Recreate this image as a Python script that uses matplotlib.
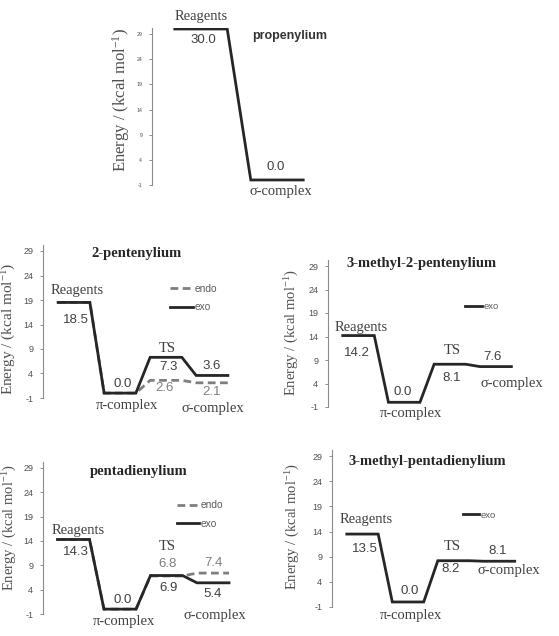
import matplotlib
matplotlib.use('Agg')
import matplotlib.pyplot as plt

plt.rcParams['mathtext.fontset'] = 'custom'
plt.rcParams['mathtext.rm'] = 'Liberation Serif'
plt.rcParams['mathtext.it'] = 'Liberation Serif:italic'
plt.rcParams['axes.unicode_minus'] = False

W, H, DPI = 559, 636, 100

# ---------------- data ----------------
prop_exo = [30.0, 0.0]
pent_exo = [18.5, 0.0, 7.3, 3.6]
pent_endo = [18.5, 0.0, 2.6, 2.1]
mpent_exo = [14.2, 0.0, 8.1, 7.6]
dien_exo = [14.3, 0.0, 6.9, 5.4]
dien_endo = [14.3, 0.0, 6.8, 7.4]
mdien_exo = [13.5, 0.0, 8.2, 8.1]
yticks = [-1, 4, 9, 14, 19, 24, 29]

SERIF = 'Liberation Serif'
SANS = 'Liberation Sans'
TXT = '#404040'
LINE = '#262626'
GRAY = '#7f7f7f'
HALF = 0.345

fig = plt.figure(figsize=(W / DPI, H / DPI), dpi=DPI)


def make_ax(spine_x, right_x, y_m1, ppu, c0, period, ytop=30.2, tfs=6.5):
    top_px = y_m1 - (ytop + 1) * ppu
    ax = fig.add_axes([spine_x / W, 1 - y_m1 / H, (right_x - spine_x) / W, (y_m1 - top_px) / H])
    ax.set_xlim((spine_x - c0) / period, (right_x - c0) / period)
    ax.set_ylim(-1, ytop)
    for s in ['top', 'right', 'bottom']:
        ax.spines[s].set_visible(False)
    ax.spines['left'].set_color('#8c8c8c')
    ax.spines['left'].set_linewidth(0.8)
    ax.set_xticks([])
    ax.set_yticks(yticks)
    ax.tick_params(axis='y', length=2.5, width=0.7, color='#8c8c8c', pad=4.5,
                   labelsize=tfs, labelcolor='#505050')
    for t in ax.get_yticklabels():
        t.set_fontfamily(SANS)
    ax.patch.set_alpha(0)
    return ax


def levels(ax, vals, **kw):
    xs, ys = [], []
    for i, v in enumerate(vals):
        xs += [i - HALF, i + HALF]
        ys += [v, v]
    return ax.plot(xs, ys, solid_joinstyle='miter', **kw)[0]


def lab(ax, i, v, text, dx, dy, va, family=SERIF, size=10.5, color=TXT):
    ax.annotate(text, xy=(i, v), xytext=(dx * 0.72, dy * 0.72), textcoords='offset points',
                ha='center', va=va, fontfamily=family, fontsize=size, color=color)


def num(ax, i, v, dx, dy, va, color=TXT):
    lab(ax, i, v, f'{v:.1f}', dx, dy, va, family=SANS, size=9.5, color=color)


def ftext(x, y, s, **kw):
    fig.text(x / W, 1 - y / H, s, ha='center', va='center', **kw)


def ylabel(x, y, size):
    ftext(x, y, r'Energy / (kcal mol$^{\mathrm{-1}}$)', rotation=90, fontfamily=SERIF,
          fontsize=size, color='#505050')


def legend(ax, handles, x, y, hl, size=7.3, spacing=0.8):
    ax.legend(handles=handles, loc='center left', bbox_to_anchor=(x / W, 1 - y / H),
              bbox_transform=fig.transFigure, frameon=False, handlelength=hl,
              handletextpad=0.15, borderpad=0, borderaxespad=0, labelspacing=spacing,
              labelcolor='#595959', prop={'family': SANS, 'size': size})


# ---------------- propenylium ----------------
ax = make_ax(152, 315, 185, 5.033, 201, 76, tfs=3.8)
levels(ax, prop_exo, color=LINE, lw=2.0)
lab(ax, 0, prop_exo[0], 'Reagents', 0, 6, 'bottom')
num(ax, 0, prop_exo[0], 2, -5, 'top')
num(ax, 1, prop_exo[1], -1, 7, 'bottom')
lab(ax, 1, prop_exo[1], 'σ-complex', 4, -5, 'top')
ftext(290, 36, 'propenylium', fontfamily=SANS, fontweight='bold', fontsize=9, color='#333333')
ylabel(121, 100, 12)

# ---------------- 2-pentenylium ----------------
ax = make_ax(43, 250, 398, 4.9, 74, 46)
hen = levels(ax, pent_endo, color=GRAY, lw=2.0, dashes=(2.8, 1.6), label='endo', zorder=2)
hex_ = levels(ax, pent_exo, color=LINE, lw=2.0, label='exo', zorder=3)
lab(ax, 0, pent_exo[0], 'Reagents', 3.5, 5, 'bottom')
num(ax, 0, pent_exo[0], 2, -12, 'top')
num(ax, 1, pent_exo[1], 3, 3, 'bottom')
lab(ax, 1, pent_exo[1], 'π-complex', 7, -6, 'top')
lab(ax, 2, pent_exo[2], 'TS', 1, 2, 'bottom')
num(ax, 2, pent_exo[2], 2, -4, 'top')
num(ax, 2, pent_endo[2], -2, -2, 'top', color=GRAY)
num(ax, 3, pent_exo[3], 0, 3, 'bottom')
num(ax, 3, pent_endo[3], 0, -3, 'top', color=GRAY)
lab(ax, 3, pent_endo[3], 'σ-complex', 1, -19, 'top')
legend(ax, [hen, hex_], 170, 298, 2.3)
ftext(137, 253, '2-pentenylium', fontfamily=SERIF, fontweight='bold', fontsize=10.5, color='#262626')
ylabel(9, 329, 11)

# ---------------- 3-methyl-2-pentenylium ----------------
ax = make_ax(328, 530, 407, 4.7, 358.5, 45.7)
hex_ = levels(ax, mpent_exo, color=LINE, lw=2.0, label='exo', zorder=3)
lab(ax, 0, mpent_exo[0], 'Reagents', 3, 2, 'bottom')
num(ax, 0, mpent_exo[0], -1.5, -11, 'top')
num(ax, 1, mpent_exo[1], -1.7, 4, 'bottom')
lab(ax, 1, mpent_exo[1], 'π-complex', 7, -5, 'top')
lab(ax, 2, mpent_exo[2], 'TS', 2, 7, 'bottom')
num(ax, 2, mpent_exo[2], 2, -8, 'top')
num(ax, 3, mpent_exo[3], -3, 4, 'bottom')
lab(ax, 3, mpent_exo[3], 'σ-complex', 16, -10, 'top')
legend(ax, [hex_], 465, 307, 1.8, size=6.8)
ftext(422, 263, '3-methyl-2-pentenylium', fontfamily=SERIF, fontweight='bold', fontsize=10.5, color='#262626')
ylabel(292, 333, 10.5)

# ---------------- pentadienylium ----------------
ax = make_ax(43, 250, 614, 4.87, 73.5, 46.5)
hen = levels(ax, dien_endo, color=GRAY, lw=2.0, dashes=(2.8, 1.6), label='endo', zorder=2)
hex_ = levels(ax, dien_exo, color=LINE, lw=2.0, label='exo', zorder=3)
lab(ax, 0, dien_exo[0], 'Reagents', 5, 2, 'bottom')
num(ax, 0, dien_exo[0], 2.5, -7, 'top')
num(ax, 1, dien_exo[1], 2.5, 3, 'bottom')
lab(ax, 1, dien_exo[1], 'π-complex', 4, -6, 'top')
lab(ax, 2, dien_endo[2], 'TS', 1, 23, 'bottom')
num(ax, 2, dien_endo[2], 1.5, 6, 'bottom', color=GRAY)
num(ax, 2, dien_exo[2], 2.5, -6, 'top')
num(ax, 3, dien_endo[3], 1, 4, 'bottom', color=GRAY)
num(ax, 3, dien_exo[3], -0.5, -5, 'top')
lab(ax, 3, dien_exo[3], 'σ-complex', 1.5, -26, 'top')
legend(ax, [hen, hex_], 177, 514.5, 2.2)
ftext(139, 471, 'pentadienylium', fontfamily=SERIF, fontweight='bold', fontsize=10.5, color='#262626')
ylabel(10, 528, 10.5)

# ---------------- 3-methyl-pentadienylium ----------------
ax = make_ax(332, 530, 607, 5.03, 362.5, 45.5)
hex_ = levels(ax, mdien_exo, color=LINE, lw=2.0, label='exo', zorder=3)
lab(ax, 0, mdien_exo[0], 'Reagents', 3.5, 8, 'bottom')
num(ax, 0, mdien_exo[0], 2, -9, 'top')
num(ax, 1, mdien_exo[1], 1.5, 5, 'bottom')
lab(ax, 1, mdien_exo[1], 'π-complex', 3.5, -7, 'top')
lab(ax, 2, mdien_exo[2], 'TS', -1, 8, 'bottom')
num(ax, 2, mdien_exo[2], -2.5, -2, 'top')
num(ax, 3, mdien_exo[3], -1.5, 4, 'bottom')
lab(ax, 3, mdien_exo[3], 'σ-complex', 9.5, -3, 'top')
legend(ax, [hex_], 463, 515, 1.7, size=6.8)
ftext(427.5, 461, '3-methyl-pentadienylium', fontfamily=SERIF, fontweight='bold', fontsize=10.5, color='#262626')
ylabel(293, 527, 10.5)

fig.savefig('out.png', dpi=DPI)
